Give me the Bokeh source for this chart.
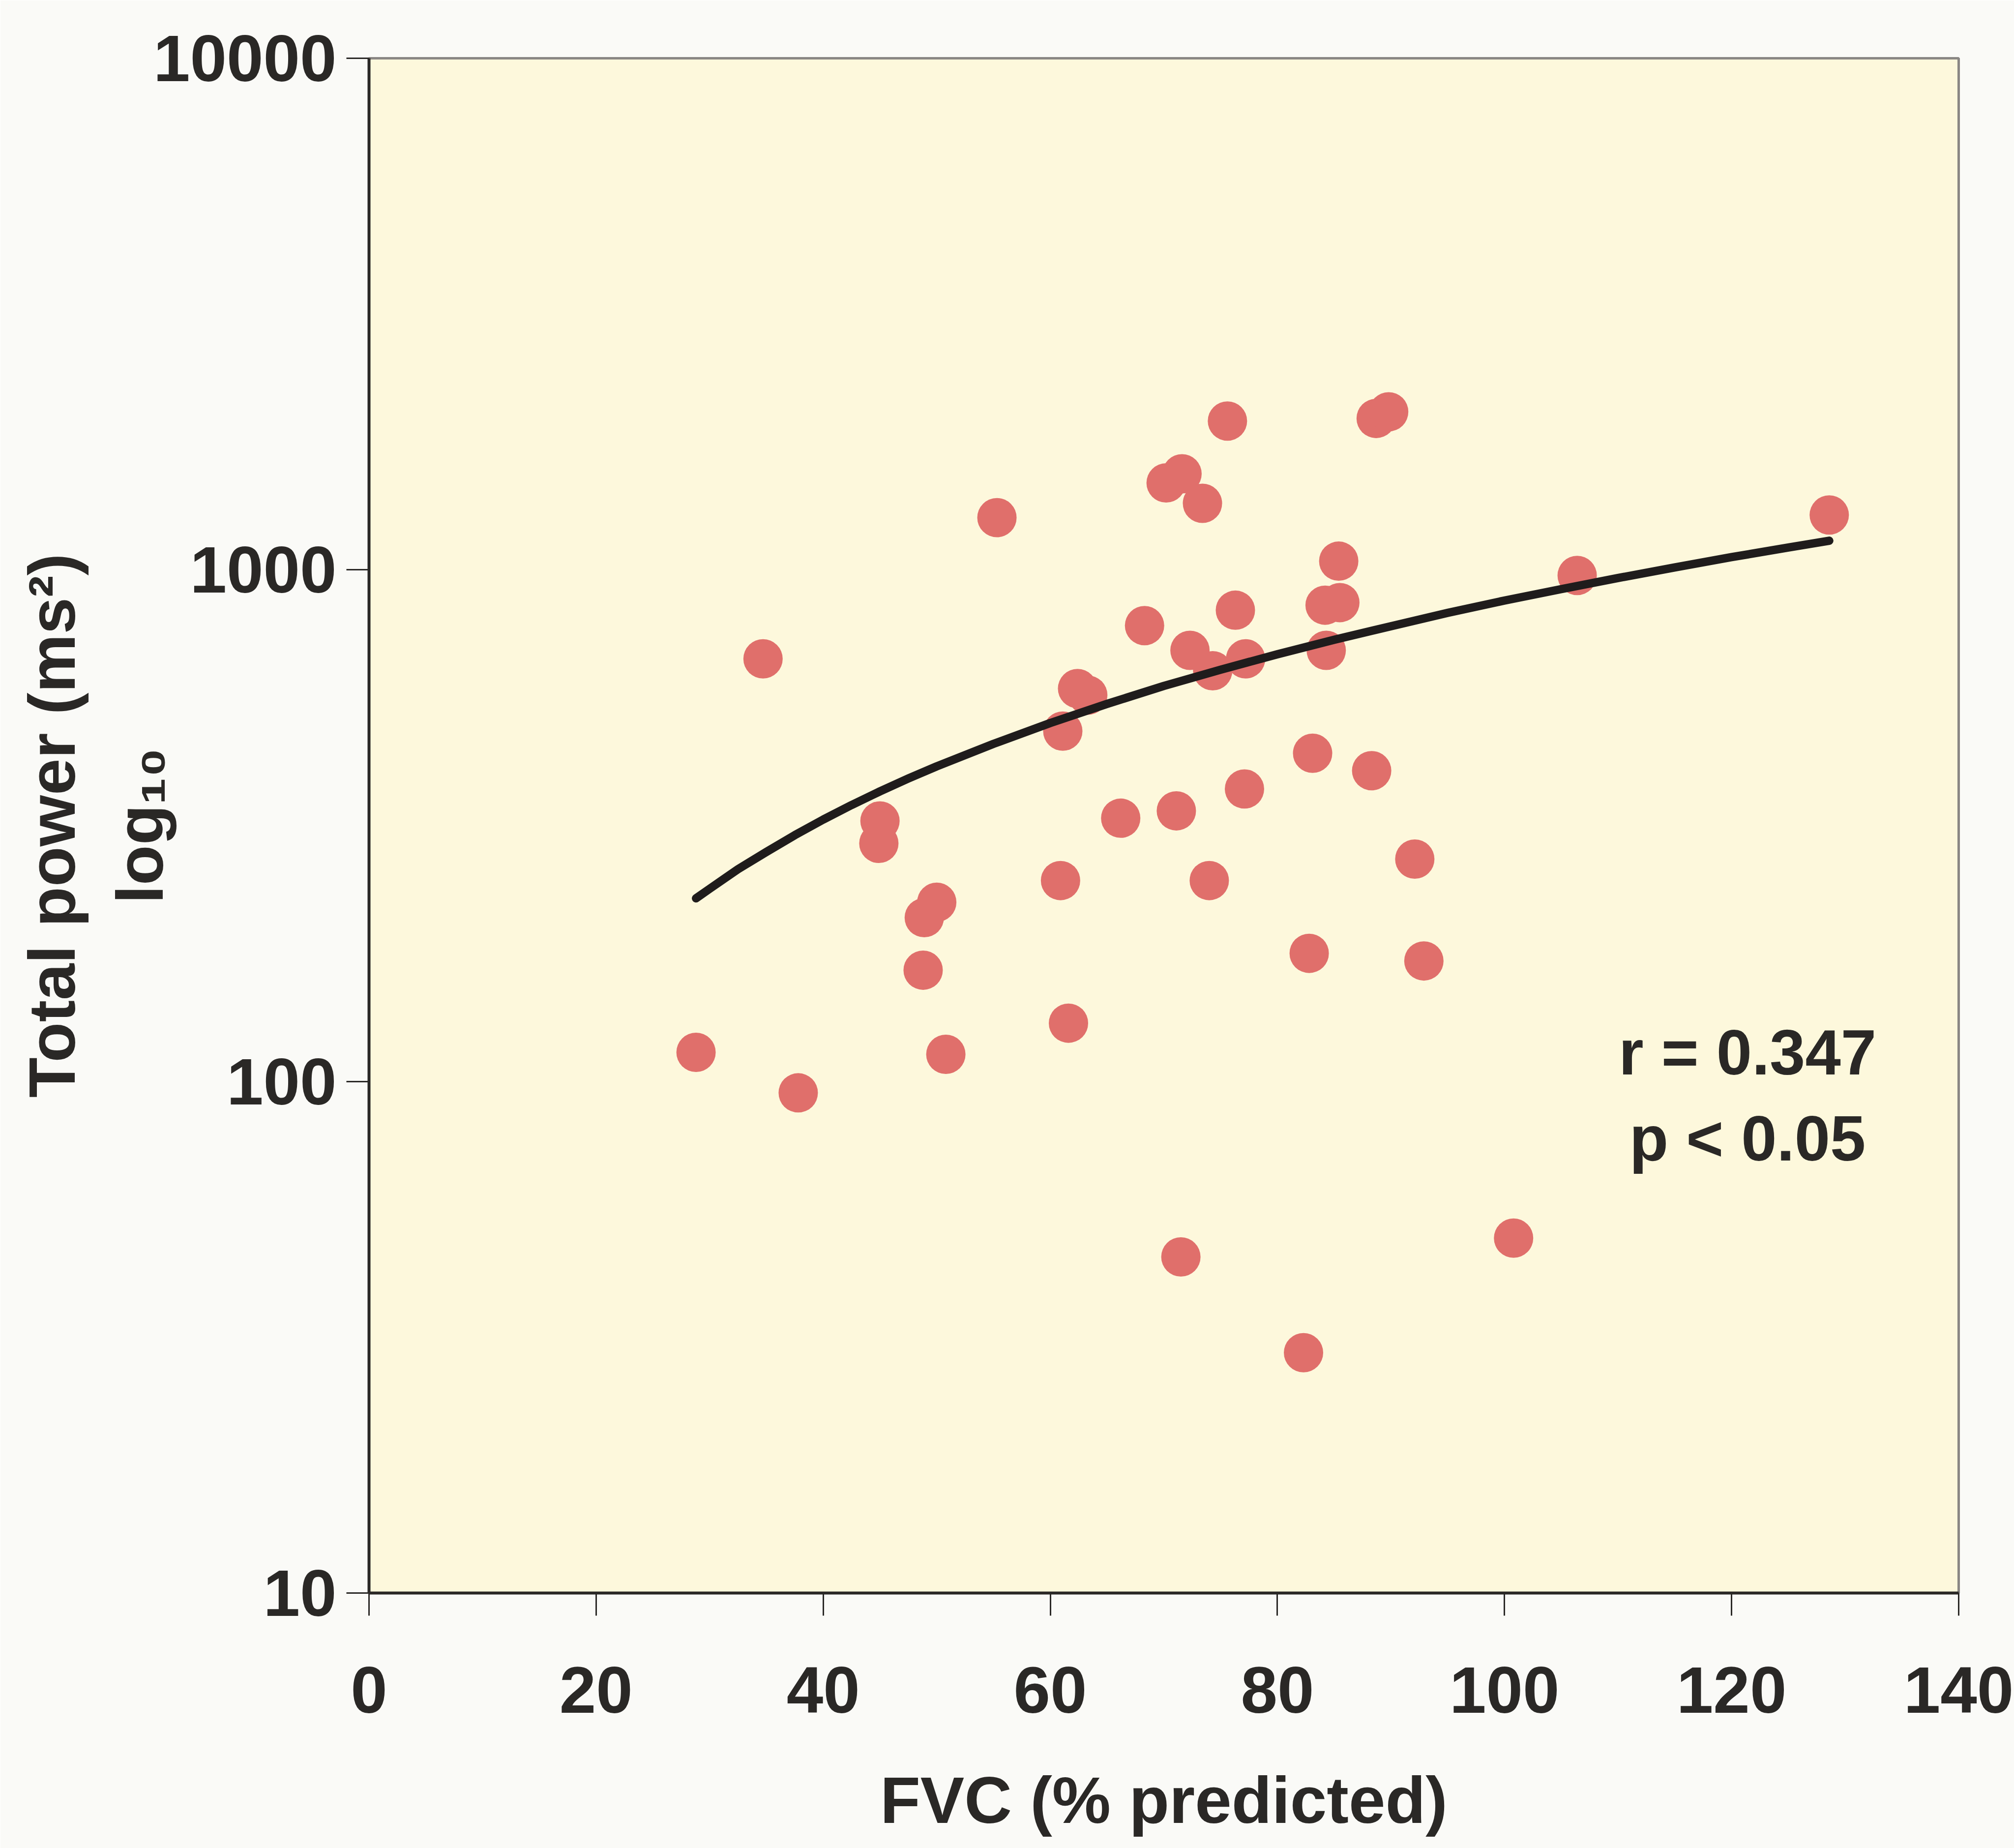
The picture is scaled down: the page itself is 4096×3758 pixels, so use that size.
from bokeh.plotting import figure
from bokeh.models import FixedTicker, NumeralTickFormatter, Range1d
from bokeh.core.properties import value
from bokeh.embed import file_html
from bokeh.resources import INLINE

# FVC (% predicted) and total power (ms^2)
fvc = [28.8, 37.8, 34.7, 45.0, 44.9, 48.9, 50.0, 48.8, 50.8, 55.3, 60.9, 61.1, 62.4, 63.3,
       61.6, 66.2, 68.3, 70.2, 71.6, 73.4, 75.6, 71.1, 72.3, 74.3, 74.0, 76.3, 77.2, 77.1,
       71.5, 82.3, 82.8, 83.1, 84.2, 84.3, 85.5, 85.4, 88.3, 88.7, 89.8, 92.1, 92.9, 100.8,
       106.4, 128.6]
total_power = [114, 95, 670, 323, 292, 209, 224, 165, 113, 1265, 247, 484, 586, 569,
               130, 327, 778, 1479, 1541, 1349, 1954, 338, 696, 635, 247, 834, 670, 373,
               45.4, 29.5, 178, 438, 853, 696, 863, 1040, 405, 1977, 2037, 272, 172, 49.4,
               975, 1280]

# trend curve
fit_x = [28.8, 30, 32.5, 35, 37.5, 40, 42.5, 45, 47.5, 50, 55, 60, 65, 70, 75, 80, 85,
         90, 95, 100, 105, 110, 115, 120, 125, 128.6]
fit_y = [228, 238, 260, 281, 303, 325, 347, 369, 391, 413, 457, 502, 547, 593, 638, 684,
         730, 776, 824, 871, 917, 964, 1011, 1059, 1106, 1140]

x_ticks = [0, 20, 40, 60, 80, 100, 120, 140]
y_ticks = [10, 100, 1000, 10000]
stats_lines = ["r = 0.347", "p < 0.05"]
stats_x = [121.4, 121.4]
stats_y = [114, 77.3]

FONT = "Liberation Sans"
INK = "#2a2826"

p = figure(width=4096, height=3758, output_backend="svg", toolbar_location=None,
           y_axis_type="log",
           x_range=Range1d(0, 140), y_range=Range1d(10, 10000),
           min_border_left=750, min_border_right=113, min_border_top=118,
           min_border_bottom=519)

p.background_fill_color = "#fdf8dc"
p.border_fill_color = "#fafaf7"
p.outline_line_color = "#8a8784"
p.outline_line_width = 5
p.grid.visible = False

for ax in (p.xaxis, p.yaxis):
    ax.axis_line_color = INK
    ax.axis_line_width = 6
    ax.major_tick_line_color = INK
    ax.major_tick_line_width = 3
    ax.major_tick_out = 46
    ax.major_tick_in = 0
    ax.minor_tick_line_color = None
    ax.major_label_text_font = FONT
    ax.major_label_text_font_style = "bold"
    ax.major_label_text_font_size = "134px"
    ax.major_label_text_color = INK
    ax.axis_label_text_font = FONT
    ax.axis_label_text_font_style = "bold"
    ax.axis_label_text_font_size = "134px"
    ax.axis_label_text_color = INK

p.xaxis.ticker = FixedTicker(ticks=x_ticks)
p.yaxis.ticker = FixedTicker(ticks=y_ticks)
p.yaxis.formatter = NumeralTickFormatter(format="0")
p.xaxis.major_label_standoff = 104
p.yaxis.major_label_standoff = 20
p.xaxis.axis_label = "FVC (% predicted)"
p.xaxis.axis_label_standoff = 100
p.yaxis.axis_label = "Total power (ms\u00b2)\nlog\u2081\u2080"
p.yaxis.axis_label_standoff = -50

p.scatter(fvc, total_power, size=80, fill_color="#e06f6b", line_color=None)
p.line(fit_x, fit_y, line_color="#1f1c1c", line_width=17, line_cap="round",
       line_join="round")

p.text(stats_x, stats_y, text=stats_lines, text_font=value(FONT), text_font_style="bold",
       text_font_size="130px", text_color=INK, text_align="center", text_baseline="middle")

open("out.html", "w").write(file_html(p, INLINE))
